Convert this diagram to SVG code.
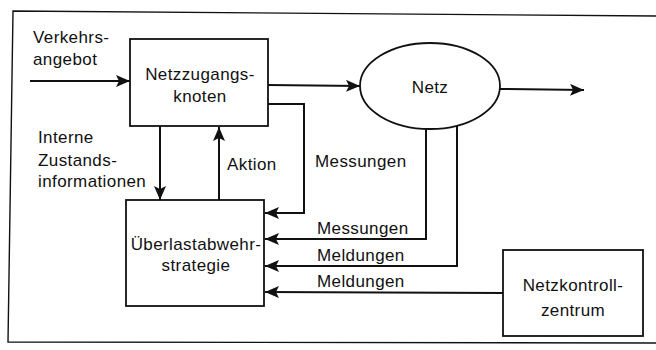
<svg xmlns="http://www.w3.org/2000/svg" width="656" height="350" viewBox="0 0 656 350">
  <style>
    .box { fill: #fff; stroke: #111; stroke-width: 1.8; }
    .frame { fill: none; stroke: #111; stroke-width: 1.4; }
    .conn { fill: none; stroke: #111; stroke-width: 2; }
    .lbl { font-family: "Liberation Sans", Arial, sans-serif; font-size: 17px; letter-spacing: 0.4px; fill: #111; }
    .node { font-family: "Liberation Sans", Arial, sans-serif; font-size: 17px; letter-spacing: 0.4px; fill: #111; text-anchor: middle; }
  </style>
  <defs>
    <marker id="arrow" markerUnits="userSpaceOnUse" markerWidth="15" markerHeight="12" refX="14" refY="6" orient="auto">
      <path d="M0,0 L14,6 L0,12 L3,6 Z" fill="#111"/>
    </marker>
  </defs>

  <rect width="656" height="350" fill="#fff"/>

  <!-- outer frame -->
  <path class="frame" d="M656,16 L13,11 L8,342 L656,343"/>

  <!-- free labels -->
  <g id="labels">
    <text class="lbl" x="33" y="43">Verkehrs-</text>
    <text class="lbl" x="33" y="65">angebot</text>
    <text class="lbl" x="38" y="143">Interne</text>
    <text class="lbl" x="38" y="166">Zustands-</text>
    <text class="lbl" x="38" y="187">informationen</text>
    <text class="lbl" x="227" y="170">Aktion</text>
    <text class="lbl" x="315" y="167">Messungen</text>
    <text class="lbl" x="317" y="234">Messungen</text>
    <text class="lbl" x="317" y="261">Meldungen</text>
    <text class="lbl" x="317" y="287">Meldungen</text>
  </g>

  <!-- connectors -->
  <g id="connectors" class="conn">
    <line x1="30" y1="81" x2="130" y2="81" marker-end="url(#arrow)"/>
    <line x1="268" y1="85" x2="360" y2="86" marker-end="url(#arrow)"/>
    <line x1="500" y1="89" x2="584" y2="90" marker-end="url(#arrow)"/>
    <line x1="160" y1="126" x2="160" y2="200" marker-end="url(#arrow)"/>
    <line x1="219" y1="200" x2="219" y2="127" marker-end="url(#arrow)"/>
    <polyline points="268,104 304,104 304,213 265,213" marker-end="url(#arrow)"/>
    <polyline points="426,129 426,239 265,239" marker-end="url(#arrow)"/>
    <polyline points="457,125 457,266 265,266" marker-end="url(#arrow)"/>
    <polyline points="503,293 265,292" marker-end="url(#arrow)"/>
  </g>

  <g id="netzzugangsknoten">
    <rect class="box" x="130" y="39" width="138" height="87"/>
    <text class="node" x="200" y="80">Netzzugangs-</text>
    <text class="node" x="200" y="102">knoten</text>
  </g>

  <g id="netz">
    <ellipse class="box" cx="430" cy="86" rx="70" ry="43"/>
    <text class="node" x="430" y="93">Netz</text>
  </g>

  <g id="ueberlastabwehrstrategie">
    <rect class="box" x="126" y="200" width="138" height="106"/>
    <text class="node" x="196" y="250">Überlastabwehr-</text>
    <text class="node" x="196" y="271">strategie</text>
  </g>

  <g id="netzkontrollzentrum">
    <rect class="box" x="503" y="250" width="140" height="86"/>
    <text class="node" x="573" y="291">Netzkontroll-</text>
    <text class="node" x="573" y="316">zentrum</text>
  </g>
</svg>
